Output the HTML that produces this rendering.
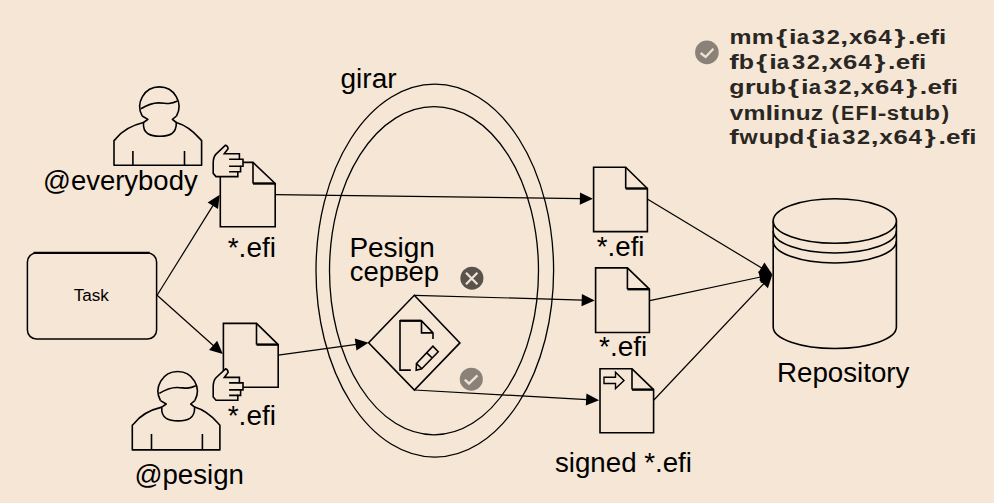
<!DOCTYPE html>
<html><head><meta charset="utf-8">
<style>
html,body{margin:0;padding:0;background:#F5E6D5;}
body{width:994px;height:503px;overflow:hidden;position:relative;font-family:"Liberation Sans",sans-serif;}
svg{position:absolute;left:0;top:0;}
.t{font-family:"Liberation Sans",sans-serif;font-size:27px;fill:#000;}
.b{font-family:"Liberation Sans",sans-serif;font-weight:bold;font-size:21px;fill:#2a2623;font-variant-ligatures:none;}
</style></head><body>
<svg width="994" height="503" viewBox="0 0 994 503">
<defs>
  <g id="person" fill="none" stroke="#000" stroke-width="1.6" stroke-linejoin="round">
    <path d="M143.5,122.5 C133,125 122,131 116,138.6 L114,140.6 V165.3 H201.6 V140.6 L199.8,138.6 C193,131 185,125 176.3,122.5"/>
    <path d="M142.2,116 A19.6,19.6 0 1 1 176.5,116"/>
    <path d="M142.2,116 L147.9,119.4 L143.5,122.5 C143,128 144.5,131.5 148,133.8 C152,136.2 156,136.3 159.8,136.3 C163.6,136.3 167.6,136.2 171.6,133.8 C175,131.5 176.5,128 176.3,122.5 L172.4,119.4 L176.5,116"/>
    <path d="M141,108.8 C147,105 153,102.8 159,102.9 C164,103 166,103.8 169,103.5 C172.5,103.2 175,102.3 177.6,101.1"/>
  </g>
  <g id="hand" fill="#F5E6D5" stroke="#000" stroke-width="1.6" stroke-linejoin="miter">
    <path d="M225.5,145.2 C226.8,145.6 228,147 228.1,148.8 L226.7,150.6 L224.3,153.8 H239.4 V159.3 H243 V166.3 H240.6 V171.8 H237.8 V176.6 H216 L213.2,173.4 V163 C213.2,159.5 214.3,156 216,154.1 Z"/>
    <path d="M229.1,159.3 H239.4 M229.1,166.3 H240.6 M229.1,171.8 H237.8" fill="none"/>
  </g>
</defs>
<g fill="none" stroke="#000" stroke-width="1.2">
<line x1="157.10" y1="295.30" x2="213.36" y2="204.89"/>
<line x1="157.10" y1="295.30" x2="213.85" y2="346.00"/>
<line x1="275.20" y1="194.60" x2="580.90" y2="198.55"/>
<line x1="278.30" y1="355.20" x2="356.61" y2="344.35"/>
<line x1="414.30" y1="295.30" x2="582.70" y2="300.06"/>
<line x1="414.50" y1="390.00" x2="587.12" y2="399.54"/>
<line x1="647.70" y1="199.20" x2="762.13" y2="268.30"/>
<line x1="649.80" y1="300.60" x2="760.66" y2="277.00"/>
<line x1="653.90" y1="400.00" x2="764.16" y2="283.23"/>
</g>
<g fill="#000">
<polygon points="219.70,194.70 218.01,208.96 207.65,202.51"/>
<polygon points="222.80,354.00 209.04,349.89 217.17,340.79"/>
<polygon points="592.90,198.70 579.82,204.63 579.98,192.43"/>
<polygon points="368.50,342.70 356.46,350.53 354.79,338.44"/>
<polygon points="594.70,300.40 581.53,306.13 581.88,293.94"/>
<polygon points="599.10,400.20 585.78,405.57 586.46,393.39"/>
<polygon points="772.40,274.50 758.12,273.00 764.42,262.56"/>
<polygon points="772.40,274.50 760.96,283.17 758.41,271.24"/>
<polygon points="772.40,274.50 767.91,288.14 759.04,279.76"/>
</g>
<ellipse cx="434.8" cy="270.6" rx="118.8" ry="186.5" fill="none" stroke="#000" stroke-width="1.3"/>
<ellipse cx="434" cy="270.7" rx="104.5" ry="164.1" fill="none" stroke="#000" stroke-width="1.3"/>
<use href="#person"/>
<use href="#person" transform="translate(18.3,284.6)"/>
<path d="M132.9,151.1 V165.3 M184.5,151.1 V165.3 M151.5,433.9 V449.9 M202.4,433.9 V449.9" stroke="#000" stroke-width="1.6"/>
<rect x="27.4" y="253" width="129.2" height="86" rx="9" fill="none" stroke="#000" stroke-width="1.5"/>
<path d="M33.5,252.9 H149.8" stroke="#000" stroke-width="2.3"/>
<g fill="#F5E6D5" stroke="#000" stroke-width="1.6" stroke-linejoin="miter">
<path d="M220.3,162.4 H253.0 L275.2,183.5 V226.8 H220.3 Z"/><path d="M253.0,162.4 V183.5" fill="none"/><path d="M253.0,183.5 H275.2" fill="none" stroke-width="2.4"/>
<path d="M223.4,323.4 H256.5 L278.2,344.6 V387.2 H223.4 Z"/><path d="M256.5,323.4 V344.6" fill="none"/><path d="M256.5,344.6 H278.2" fill="none" stroke-width="2.4"/>
</g>
<use href="#hand"/>
<use href="#hand" transform="translate(0,223.6)"/>
<g fill="#F5E6D5" stroke="#000" stroke-width="1.6" stroke-linejoin="miter">
<path d="M593.6,167.2 H625.7 L647.4,188.5 V231.6 H593.6 Z"/><path d="M625.7,167.2 V188.5" fill="none"/><path d="M625.7,188.5 H647.4" fill="none" stroke-width="2.4"/>
<path d="M595.6,267.9 H627.4 L649.4,289.2 V332.5 H595.6 Z"/><path d="M627.4,267.9 V289.2" fill="none"/><path d="M627.4,289.2 H649.4" fill="none" stroke-width="2.4"/>
<path d="M600.0,368.8 H632.0 L653.6,389.6 V432.8 H600.0 Z"/><path d="M632.0,368.8 V389.6" fill="none"/><path d="M632.0,389.6 H653.6" fill="none" stroke-width="2.4"/>
  <path d="M604,377.3 H615.5 V372.2 L624,380.4 L615.5,388.6 V383.5 H604 Z" stroke-width="1.4"/>
</g>
<g fill="none" stroke="#000" stroke-width="1.6">
  <polygon points="414.3,295.3 459.9,342.9 414.4,390 368.6,342.8" fill="#F5E6D5"/>
  <path d="M410.8,370.1 H400 V320.7 H421.5 L433,332.9 V338.9 M421.5,320.7 V332.9 H433"/>
  <path d="M400,320.7 H421.5" stroke-width="2.2"/>
  <path d="M416.5,363.5 L432.9,346.2 L438.2,351.8 L421.8,368.7 Z M416.5,363.5 L416.2,370.2 L421.8,368.7 M426.6,352.6 L432.2,358"/>
</g>
<circle cx="471.9" cy="278.2" r="11.5" fill="#5a534d"/>
<path d="M466,272.8 L477.4,284.2 M477.4,272.8 L466,284.2" stroke="#F0E2D2" stroke-width="2.3"/>
<circle cx="471.3" cy="379.2" r="11.5" fill="#8a8178"/>
<path d="M464.8,379.6 L469,383.6 L477.5,375.4" fill="none" stroke="#F0E2D2" stroke-width="2.4"/>
<circle cx="706.9" cy="52.4" r="11.8" fill="#8a8178"/>
<path d="M700.6,53 L705.6,57 L713.4,48.7" fill="none" stroke="#F0E2D2" stroke-width="2.3"/>
<g fill="none" stroke="#000" stroke-width="1.6">
  <path d="M773.2,221 V327 A61.6,21.5 0 0 0 896.4,327 V221"/>
  <ellipse cx="834.8" cy="221" rx="61.6" ry="22.2" fill="#F5E6D5"/>
  <path d="M773.2,231 A61.6,22 0 0 0 896.4,231"/>
  <path d="M773.2,241 A61.6,22 0 0 0 896.4,241"/>
</g>
<text class="t" x="43.04" y="189.80" style="font-size:27px" textLength="154.61" lengthAdjust="spacingAndGlyphs">@everybody</text>
<text class="t" x="227.75" y="256.70" style="font-size:27px" textLength="48.13" lengthAdjust="spacingAndGlyphs">*.efi</text>
<text class="t" x="227.75" y="424.70" style="font-size:27px" textLength="48.13" lengthAdjust="spacingAndGlyphs">*.efi</text>
<text class="t" x="134.43" y="483.60" style="font-size:27px" textLength="109.47" lengthAdjust="spacingAndGlyphs">@pesign</text>
<text class="t" x="340.52" y="87.70" style="font-size:27px" textLength="56.14" lengthAdjust="spacingAndGlyphs">girar</text>
<text class="t" x="349.41" y="256.50" style="font-size:27px" textLength="85.51" lengthAdjust="spacingAndGlyphs">Pesign</text>
<text class="t" x="349.84" y="281.30" style="font-size:27px" textLength="89.21" lengthAdjust="spacingAndGlyphs">сервер</text>
<text class="t" x="596.85" y="256.10" style="font-size:27px" textLength="47.61" lengthAdjust="spacingAndGlyphs">*.efi</text>
<text class="t" x="599.05" y="356.10" style="font-size:27px" textLength="48.13" lengthAdjust="spacingAndGlyphs">*.efi</text>
<text class="t" x="554.93" y="472.00" style="font-size:27px" textLength="137.04" lengthAdjust="spacingAndGlyphs">signed *.efi</text>
<text class="t" x="777.03" y="381.90" style="font-size:27px" textLength="132.43" lengthAdjust="spacingAndGlyphs">Repository</text>
<text class="t" x="73.70" y="301.00" style="font-size:16px" textLength="35.18" lengthAdjust="spacingAndGlyphs">Task</text>
<text class="b" transform="translate(740.59,43.80) scale(1.178,1)" x="-9.38">m</text>
<text class="b" transform="translate(762.87,43.80) scale(1.178,1)" x="-9.38">m</text>
<text class="b" transform="translate(781.58,43.80) scale(1.337,1)" x="-4.03">{</text>
<text class="b" transform="translate(792.86,43.80) scale(1.298,1)" x="-2.91">i</text>
<text class="b" transform="translate(803.36,43.80) scale(1.057,1)" x="-6.21">a</text>
<text class="b" transform="translate(818.27,43.80) scale(1.126,1)" x="-5.70">3</text>
<text class="b" transform="translate(833.21,43.80) scale(1.121,1)" x="-5.78">2</text>
<text class="b" transform="translate(844.27,43.80) scale(1.350,1)" x="-2.93">,</text>
<text class="b" transform="translate(855.75,43.80) scale(1.156,1)" x="-5.83">x</text>
<text class="b" transform="translate(870.18,43.80) scale(1.223,1)" x="-5.84">6</text>
<text class="b" transform="translate(884.98,43.80) scale(1.151,1)" x="-5.94">4</text>
<text class="b" transform="translate(900.03,43.80) scale(1.333,1)" x="-4.15">}</text>
<text class="b" transform="translate(911.71,43.80) scale(1.269,1)" x="-2.91">.</text>
<text class="b" transform="translate(922.97,43.80) scale(1.239,1)" x="-5.89">e</text>
<text class="b" transform="translate(937.55,43.80) scale(1.240,1)" x="-5.85">fi</text>
<text class="b" transform="translate(734.35,69.10) scale(1.350,1)" x="-3.70">f</text>
<text class="b" transform="translate(746.77,69.10) scale(1.187,1)" x="-6.68">b</text>
<text class="b" transform="translate(761.63,69.10) scale(1.337,1)" x="-4.03">{</text>
<text class="b" transform="translate(772.91,69.10) scale(1.298,1)" x="-2.91">i</text>
<text class="b" transform="translate(783.41,69.10) scale(1.057,1)" x="-6.21">a</text>
<text class="b" transform="translate(798.32,69.10) scale(1.126,1)" x="-5.70">3</text>
<text class="b" transform="translate(813.25,69.10) scale(1.121,1)" x="-5.78">2</text>
<text class="b" transform="translate(824.32,69.10) scale(1.350,1)" x="-2.93">,</text>
<text class="b" transform="translate(835.80,69.10) scale(1.156,1)" x="-5.83">x</text>
<text class="b" transform="translate(850.23,69.10) scale(1.223,1)" x="-5.84">6</text>
<text class="b" transform="translate(865.01,69.10) scale(1.151,1)" x="-5.94">4</text>
<text class="b" transform="translate(880.08,69.10) scale(1.333,1)" x="-4.15">}</text>
<text class="b" transform="translate(891.76,69.10) scale(1.269,1)" x="-2.91">.</text>
<text class="b" transform="translate(903.02,69.10) scale(1.239,1)" x="-5.89">e</text>
<text class="b" transform="translate(917.58,69.10) scale(1.240,1)" x="-5.85">fi</text>
<text class="b" transform="translate(736.64,94.30) scale(1.189,1)" x="-6.14">g</text>
<text class="b" transform="translate(750.84,94.30) scale(1.344,1)" x="-4.62">r</text>
<text class="b" transform="translate(762.81,94.30) scale(1.160,1)" x="-6.37">u</text>
<text class="b" transform="translate(778.56,94.30) scale(1.187,1)" x="-6.68">b</text>
<text class="b" transform="translate(793.41,94.30) scale(1.337,1)" x="-4.03">{</text>
<text class="b" transform="translate(804.69,94.30) scale(1.298,1)" x="-2.91">i</text>
<text class="b" transform="translate(815.19,94.30) scale(1.057,1)" x="-6.21">a</text>
<text class="b" transform="translate(830.10,94.30) scale(1.126,1)" x="-5.70">3</text>
<text class="b" transform="translate(845.03,94.30) scale(1.121,1)" x="-5.78">2</text>
<text class="b" transform="translate(856.10,94.30) scale(1.350,1)" x="-2.93">,</text>
<text class="b" transform="translate(867.58,94.30) scale(1.156,1)" x="-5.83">x</text>
<text class="b" transform="translate(882.01,94.30) scale(1.223,1)" x="-5.84">6</text>
<text class="b" transform="translate(896.80,94.30) scale(1.151,1)" x="-5.94">4</text>
<text class="b" transform="translate(911.86,94.30) scale(1.333,1)" x="-4.15">}</text>
<text class="b" transform="translate(923.54,94.30) scale(1.269,1)" x="-2.91">.</text>
<text class="b" transform="translate(934.80,94.30) scale(1.239,1)" x="-5.89">e</text>
<text class="b" transform="translate(949.36,94.30) scale(1.240,1)" x="-5.85">fi</text>
<text class="b" transform="translate(736.38,119.80) scale(1.157,1)" x="-5.83">v</text>
<text class="b" transform="translate(754.53,119.80) scale(1.178,1)" x="-9.38">m</text>
<text class="b" transform="translate(769.29,119.80) scale(1.298,1)" x="-2.91">l</text>
<text class="b" transform="translate(776.63,119.80) scale(1.298,1)" x="-2.91">i</text>
<text class="b" transform="translate(787.97,119.80) scale(1.160,1)" x="-6.45">n</text>
<text class="b" transform="translate(803.08,119.80) scale(1.160,1)" x="-6.37">u</text>
<text class="b" transform="translate(816.94,119.80) scale(1.176,1)" x="-5.29">z</text>
<text class="b" transform="translate(835.60,119.80) scale(1.051,1)" x="-4.01">(</text>
<text class="b" transform="translate(847.92,119.80) scale(0.941,1)" x="-7.30">E</text>
<text class="b" transform="translate(862.42,119.80) scale(1.019,1)" x="-6.73">F</text>
<text class="b" transform="translate(873.63,119.80) scale(1.330,1)" x="-2.92">I</text>
<text class="b" transform="translate(882.04,119.80) scale(1.231,1)" x="-3.49">-</text>
<text class="b" transform="translate(892.89,119.80) scale(1.053,1)" x="-5.78">s</text>
<text class="b" transform="translate(904.22,119.80) scale(1.350,1)" x="-3.50">t</text>
<text class="b" transform="translate(916.99,119.80) scale(1.160,1)" x="-6.37">u</text>
<text class="b" transform="translate(932.74,119.80) scale(1.187,1)" x="-6.68">b</text>
<text class="b" transform="translate(944.81,119.80) scale(1.051,1)" x="-2.98">)</text>
<text class="b" transform="translate(734.35,144.10) scale(1.350,1)" x="-3.70">f</text>
<text class="b" transform="translate(748.59,144.10) scale(1.112,1)" x="-8.16">w</text>
<text class="b" transform="translate(766.02,144.10) scale(1.160,1)" x="-6.37">u</text>
<text class="b" transform="translate(781.76,144.10) scale(1.187,1)" x="-6.68">p</text>
<text class="b" transform="translate(796.24,144.10) scale(1.187,1)" x="-6.15">d</text>
<text class="b" transform="translate(811.92,144.10) scale(1.337,1)" x="-4.03">{</text>
<text class="b" transform="translate(823.21,144.10) scale(1.298,1)" x="-2.91">i</text>
<text class="b" transform="translate(833.71,144.10) scale(1.057,1)" x="-6.21">a</text>
<text class="b" transform="translate(848.62,144.10) scale(1.126,1)" x="-5.70">3</text>
<text class="b" transform="translate(863.56,144.10) scale(1.121,1)" x="-5.78">2</text>
<text class="b" transform="translate(874.61,144.10) scale(1.350,1)" x="-2.93">,</text>
<text class="b" transform="translate(886.10,144.10) scale(1.156,1)" x="-5.83">x</text>
<text class="b" transform="translate(900.53,144.10) scale(1.223,1)" x="-5.84">6</text>
<text class="b" transform="translate(915.32,144.10) scale(1.151,1)" x="-5.94">4</text>
<text class="b" transform="translate(930.38,144.10) scale(1.333,1)" x="-4.15">}</text>
<text class="b" transform="translate(942.06,144.10) scale(1.269,1)" x="-2.91">.</text>
<text class="b" transform="translate(953.32,144.10) scale(1.239,1)" x="-5.89">e</text>
<text class="b" transform="translate(967.88,144.10) scale(1.240,1)" x="-5.85">fi</text>
</svg>
</body></html>
